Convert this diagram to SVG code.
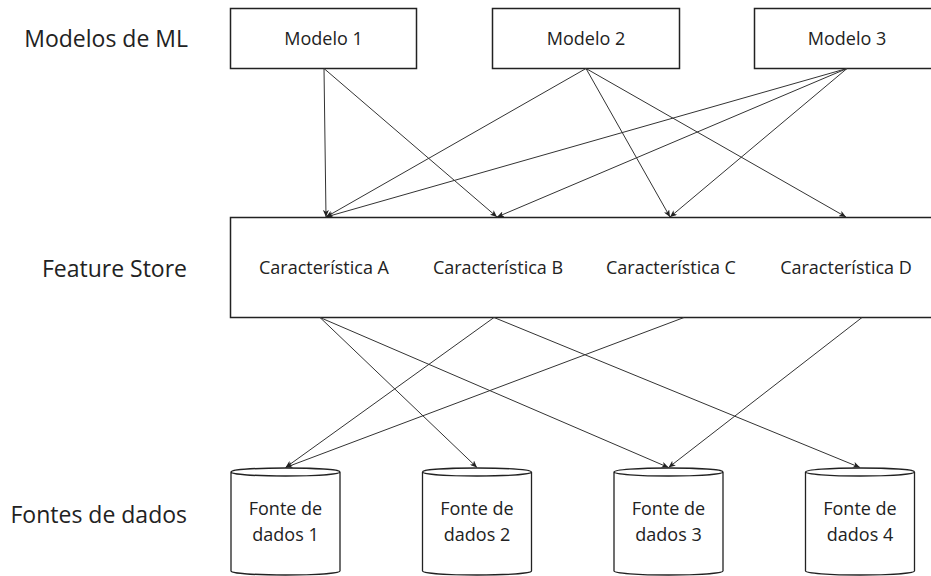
<svg xmlns="http://www.w3.org/2000/svg" width="931" height="576" viewBox="0 0 931 576">
  <style>
    .lbl { font-family: "Open Sans", "Noto Sans", "Liberation Sans", sans-serif; font-size: 23px; fill: #222; text-anchor: end; }
    .txt { font-family: "Open Sans", "Noto Sans", "Liberation Sans", sans-serif; font-size: 18px; fill: #222; text-anchor: middle; }
    .box { fill: #fff; stroke: #222; stroke-width: 1.5; }
    .cyl { fill: #fff; stroke: #222; stroke-width: 1.3; }
    .edge { fill: none; stroke: #333; stroke-width: 1; marker-end: url(#arrow); }
  </style>
  <defs>
    <marker id="arrow" markerUnits="userSpaceOnUse" markerWidth="8" markerHeight="6" refX="7" refY="3" orient="auto">
      <path d="M0,0 L7,3 L0,6 L1.8,3 z" fill="#222"/>
    </marker>
  </defs>

  <rect width="931" height="576" fill="#fff"/>

  <!-- layer labels -->
  <g id="layer-labels">
    <text class="lbl" x="188" y="47">Modelos de ML</text>
    <text class="lbl" x="187" y="277">Feature Store</text>
    <text class="lbl" x="187" y="523">Fontes de dados</text>
  </g>

  <!-- models -->
  <g id="modelo-1">
    <rect class="box" x="230.5" y="8.5" width="186" height="60"/>
    <text class="txt" x="323.5" y="45">Modelo 1</text>
  </g>
  <g id="modelo-2">
    <rect class="box" x="492.5" y="8.5" width="187" height="60"/>
    <text class="txt" x="586" y="45">Modelo 2</text>
  </g>
  <g id="modelo-3">
    <rect class="box" x="754.5" y="8.5" width="187" height="60"/>
    <text class="txt" x="847" y="45">Modelo 3</text>
  </g>

  <!-- feature store -->
  <g id="feature-store">
    <rect class="box" x="230.5" y="217.5" width="712" height="100"/>
    <text class="txt" x="324" y="274">Característica A</text>
    <text class="txt" x="498" y="274">Característica B</text>
    <text class="txt" x="671" y="274">Característica C</text>
    <text class="txt" x="846" y="274">Característica D</text>
  </g>

  <!-- data sources -->
  <g id="fonte-1">
    <path class="cyl" d="M231,472 a54.5,4 0 0 1 109,0 v99 a54.5,4 0 0 1 -109,0 z M231,472 a54.5,4 0 0 0 109,0"/>
    <text class="txt" x="285.5" y="515">Fonte de</text>
    <text class="txt" x="285.5" y="541">dados 1</text>
  </g>
  <g id="fonte-2">
    <path class="cyl" d="M422.5,472 a54.5,4 0 0 1 109,0 v99 a54.5,4 0 0 1 -109,0 z M422.5,472 a54.5,4 0 0 0 109,0"/>
    <text class="txt" x="477" y="515">Fonte de</text>
    <text class="txt" x="477" y="541">dados 2</text>
  </g>
  <g id="fonte-3">
    <path class="cyl" d="M614,472 a54.5,4 0 0 1 109,0 v99 a54.5,4 0 0 1 -109,0 z M614,472 a54.5,4 0 0 0 109,0"/>
    <text class="txt" x="668.5" y="515">Fonte de</text>
    <text class="txt" x="668.5" y="541">dados 3</text>
  </g>
  <g id="fonte-4">
    <path class="cyl" d="M805.5,472 a54.5,4 0 0 1 109,0 v99 a54.5,4 0 0 1 -109,0 z M805.5,472 a54.5,4 0 0 0 109,0"/>
    <text class="txt" x="860" y="515">Fonte de</text>
    <text class="txt" x="860" y="541">dados 4</text>
  </g>

  <!-- connectors -->
  <g id="connectors">
    <!-- models to features -->
    <line class="edge" x1="324" y1="68.5" x2="326" y2="217"/>
    <line class="edge" x1="324" y1="68.5" x2="497" y2="217"/>
    <line class="edge" x1="586" y1="68.5" x2="326" y2="217"/>
    <line class="edge" x1="586" y1="68.5" x2="670" y2="217"/>
    <line class="edge" x1="586" y1="68.5" x2="846" y2="217"/>
    <line class="edge" x1="847" y1="68.5" x2="326" y2="217"/>
    <line class="edge" x1="847" y1="68.5" x2="497" y2="217"/>
    <line class="edge" x1="847" y1="68.5" x2="670" y2="217"/>
    <!-- features to sources -->
    <line class="edge" x1="320" y1="317.5" x2="477" y2="467.5"/>
    <line class="edge" x1="320" y1="317.5" x2="668.5" y2="467.5"/>
    <line class="edge" x1="494" y1="317.5" x2="285.5" y2="467.5"/>
    <line class="edge" x1="494" y1="317.5" x2="860" y2="467.5"/>
    <line class="edge" x1="684" y1="317.5" x2="285.5" y2="467.5"/>
    <line class="edge" x1="862" y1="317.5" x2="668.5" y2="467.5"/>
  </g>
</svg>
